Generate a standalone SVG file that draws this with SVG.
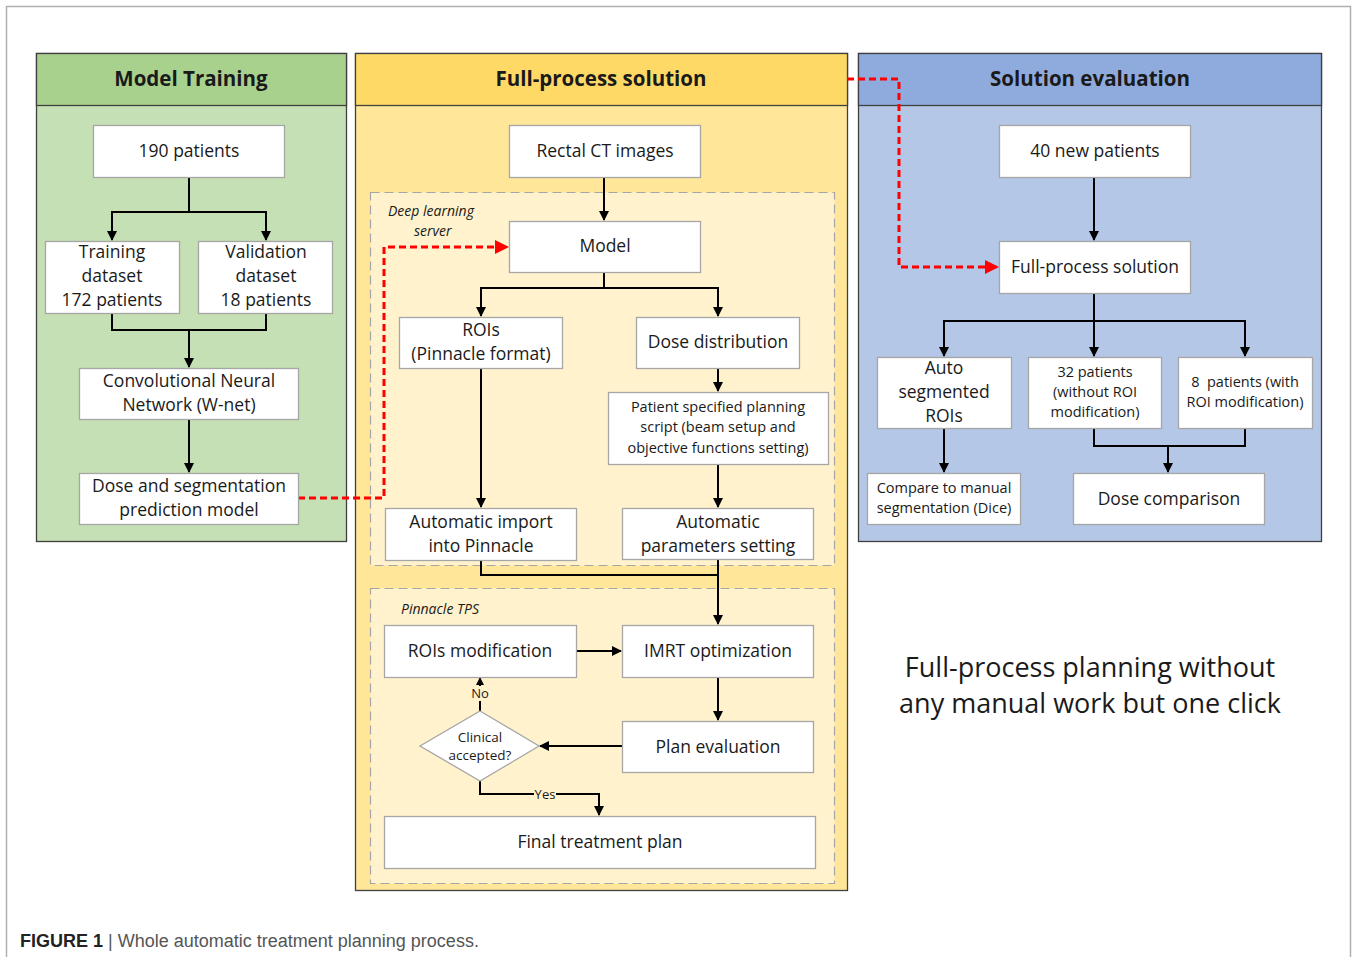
<svg xmlns="http://www.w3.org/2000/svg" width="1354" height="957" viewBox="0 0 1354 957">
<defs>
<marker id="ah" markerWidth="10" markerHeight="10" refX="9" refY="5" orient="auto" markerUnits="userSpaceOnUse"><path d="M0,0 L10,5 L0,10 z" fill="#000"/></marker>
<marker id="ahr" markerWidth="14" markerHeight="14" refX="13" refY="7" orient="auto" markerUnits="userSpaceOnUse"><path d="M0,0 L14,7 L0,14 z" fill="#ff0000"/></marker>
<marker id="ahs" markerWidth="8" markerHeight="8" refX="7" refY="4" orient="auto" markerUnits="userSpaceOnUse"><path d="M0,0 L8,4 L0,8 z" fill="#000"/></marker>
</defs>
<style>
text{font-family:"Open Sans","Noto Sans",sans-serif;fill:#1a1a1a;text-anchor:middle}
.n{fill:#fff;stroke:#a6a6a6;stroke-width:1.3}
.t{font-size:17.5px}
.s{font-size:14.5px}
.h{font-size:20.5px;font-weight:bold}
.i{font-size:14px;font-style:italic;text-anchor:start}
.c{fill:none;stroke:#000;stroke-width:2}
.r{fill:none;stroke:#ff0000;stroke-width:3;stroke-dasharray:7,4}
.d{fill:#fff2cc;stroke:#a6a6a6;stroke-width:1.2;stroke-dasharray:9,5}
.p{stroke:#404040;stroke-width:1.3}
</style>
<rect width="1354" height="957" fill="#fff"/>
<path d="M6.5,957 V6.5 H1350.5 V957" fill="none" stroke="#b0b0b0" stroke-width="1.5"/>

<g id="panel-training">
<rect class="p" x="36.5" y="53.5" width="310" height="488" fill="#c5e0b4"/>
<rect class="p" x="36.5" y="53.5" width="310" height="52" fill="#a9d18e"/>
<text class="h" x="191" y="86">Model Training</text>
</g>
<g id="panel-full">
<rect class="p" x="355.5" y="53.5" width="492" height="837" fill="#ffe699"/>
<rect class="p" x="355.5" y="53.5" width="492" height="52" fill="#ffd966"/>
<text class="h" x="601" y="86">Full-process solution</text>
<rect class="d" x="370.5" y="192.5" width="464" height="373"/>
<text class="i" x="388" y="216">Deep learning</text>
<text class="i" x="414" y="236">server</text>
<rect class="d" x="370.5" y="588.5" width="464" height="295"/>
<text class="i" x="401" y="614">Pinnacle TPS</text>
</g>
<g id="panel-eval">
<rect class="p" x="858.5" y="53.5" width="463" height="488" fill="#b4c7e7"/>
<rect class="p" x="858.5" y="53.5" width="463" height="52" fill="#8faadc"/>
<text class="h" x="1090" y="86">Solution evaluation</text>
</g>

<g id="connectors">
<path class="c" d="M189,177 V212 M112,240 V212 H266 V240" marker-end="url(#ah)"/>
<path class="c" d="M112,212 V240" marker-end="url(#ah)"/>
<path class="c" d="M112,313 V330 H266 V313 M189,330 V367" marker-end="url(#ah)"/>
<path class="c" d="M189,419 V472" marker-end="url(#ah)"/>
<path class="c" d="M604,177 V220" marker-end="url(#ah)"/>
<path class="c" d="M604,272 V288 H718 V316" marker-end="url(#ah)"/>
<path class="c" d="M604,288 H481 V316" marker-end="url(#ah)"/>
<path class="c" d="M481,368 V507" marker-end="url(#ah)"/>
<path class="c" d="M718,368 V391" marker-end="url(#ah)"/>
<path class="c" d="M718,464 V507" marker-end="url(#ah)"/>
<path class="c" d="M481,560 V575 H718 M718,559 V624" marker-end="url(#ah)"/>
<path class="c" d="M576,651 H621" marker-end="url(#ah)"/>
<path class="c" d="M718,677 V720" marker-end="url(#ah)"/>
<path class="c" d="M622,746 H540" marker-end="url(#ah)"/>
<path class="c" d="M480,711 V678" marker-end="url(#ahs)"/>
<path class="c" d="M480,781 V794 H599 V815" marker-end="url(#ah)"/>
<rect x="471" y="686" width="18" height="15" fill="#fff2cc"/>
<text x="480" y="698" style="font-size:13px">No</text>
<rect x="534" y="787" width="22" height="14" fill="#fff2cc"/>
<text x="545" y="799" style="font-size:13px">Yes</text>
<path class="c" d="M1094,177 V240" marker-end="url(#ah)"/>
<path class="c" d="M1094,293 V356" marker-end="url(#ah)"/>
<path class="c" d="M1094,321 H944 V356" marker-end="url(#ah)"/>
<path class="c" d="M1094,321 H1245 V356" marker-end="url(#ah)"/>
<path class="c" d="M944,428 V472" marker-end="url(#ah)"/>
<path class="c" d="M1094,428 V446 H1245 V428 M1168,446 V472" marker-end="url(#ah)"/>
<path class="r" d="M298,498 H384 V247 H508" marker-end="url(#ahr)"/>
<path class="r" d="M847,79 H899 V267 H998" marker-end="url(#ahr)"/>
</g>

<g id="n-190"><rect class="n" x="93.5" y="125.5" width="191" height="52"/><text class="t" x="189" y="157">190 patients</text></g>
<g id="n-train"><rect class="n" x="45.5" y="241.5" width="134" height="72"/><text class="t" x="112" y="258">Training</text><text class="t" x="112" y="282">dataset</text><text class="t" x="112" y="306">172 patients</text></g>
<g id="n-valid"><rect class="n" x="198.5" y="241.5" width="134" height="72"/><text class="t" x="266" y="258">Validation</text><text class="t" x="266" y="282">dataset</text><text class="t" x="266" y="306">18 patients</text></g>
<g id="n-cnn"><rect class="n" x="79.5" y="368.5" width="219" height="51"/><text class="t" x="189" y="387">Convolutional Neural</text><text class="t" x="189" y="411">Network (W-net)</text></g>
<g id="n-model-pred"><rect class="n" x="79.5" y="473.5" width="219" height="51"/><text class="t" x="189" y="492">Dose and segmentation</text><text class="t" x="189" y="516">prediction model</text></g>

<g id="n-ct"><rect class="n" x="509.5" y="125.5" width="191" height="52"/><text class="t" x="605" y="157">Rectal CT images</text></g>
<g id="n-model"><rect class="n" x="509.5" y="221.5" width="191" height="51"/><text class="t" x="605" y="252">Model</text></g>
<g id="n-rois"><rect class="n" x="399.5" y="317.5" width="163" height="51"/><text class="t" x="481" y="336">ROIs</text><text class="t" x="481" y="360">(Pinnacle format)</text></g>
<g id="n-dose"><rect class="n" x="636.5" y="317.5" width="163" height="51"/><text class="t" x="718" y="348">Dose distribution</text></g>
<g id="n-script"><rect class="n" x="608.5" y="392.5" width="220" height="72"/><text class="s" x="718" y="412">Patient specified planning</text><text class="s" x="718" y="432">script (beam setup and</text><text class="s" x="718" y="453">objective functions setting)</text></g>
<g id="n-import"><rect class="n" x="385.5" y="508.5" width="191" height="52"/><text class="t" x="481" y="528">Automatic import</text><text class="t" x="481" y="552">into Pinnacle</text></g>
<g id="n-param"><rect class="n" x="622.5" y="508.5" width="191" height="51"/><text class="t" x="718" y="528">Automatic</text><text class="t" x="718" y="552">parameters setting</text></g>
<g id="n-roimod"><rect class="n" x="384.5" y="625.5" width="192" height="52"/><text class="t" x="480" y="657">ROIs modification</text></g>
<g id="n-imrt"><rect class="n" x="622.5" y="625.5" width="191" height="52"/><text class="t" x="718" y="657">IMRT optimization</text></g>
<g id="n-planeval"><rect class="n" x="622.5" y="721.5" width="191" height="51"/><text class="t" x="718" y="753">Plan evaluation</text></g>
<g id="n-clinical"><polygon class="n" points="480,711 539,746 480,781 420,746"/><text x="480" y="742" style="font-size:13.5px">Clinical</text><text x="480" y="760" style="font-size:13.5px">accepted?</text></g>
<g id="n-final"><rect class="n" x="384.5" y="816.5" width="431" height="52"/><text class="t" x="600" y="848">Final treatment plan</text></g>

<g id="n-40"><rect class="n" x="999.5" y="125.5" width="191" height="52"/><text class="t" x="1095" y="157">40 new patients</text></g>
<g id="n-fps"><rect class="n" x="999.5" y="241.5" width="191" height="52"/><text class="t" x="1095" y="273">Full-process solution</text></g>
<g id="n-auto"><rect class="n" x="877.5" y="357.5" width="134" height="71"/><text class="t" x="944" y="374">Auto</text><text class="t" x="944" y="398">segmented</text><text class="t" x="944" y="422">ROIs</text></g>
<g id="n-32"><rect class="n" x="1028.5" y="357.5" width="133" height="71"/><text class="s" x="1095" y="377">32 patients</text><text class="s" x="1095" y="397">(without ROI</text><text class="s" x="1095" y="417">modification)</text></g>
<g id="n-8"><rect class="n" x="1178.5" y="357.5" width="134" height="71"/><text class="s" x="1245" y="387">8&#160; patients (with</text><text class="s" x="1245" y="407">ROI modification)</text></g>
<g id="n-compare"><rect class="n" x="867.5" y="473.5" width="153" height="51"/><text class="s" x="944" y="493">Compare to manual</text><text class="s" x="944" y="513">segmentation (Dice)</text></g>
<g id="n-dosecomp"><rect class="n" x="1073.5" y="473.5" width="191" height="51"/><text class="t" x="1169" y="505">Dose comparison</text></g>

<g id="note">
<text x="1090" y="677" style="font-size:27px">Full-process planning without</text>
<text x="1090" y="713" style="font-size:27px">any manual work but one click</text>
</g>
<g id="caption">
<text x="20" y="947" style="font-family:'Liberation Sans',Arial,sans-serif;font-size:18px;text-anchor:start"><tspan font-weight="bold" fill="#222">FIGURE 1</tspan><tspan fill="#555"> | Whole automatic treatment planning process.</tspan></text>
</g>
</svg>
